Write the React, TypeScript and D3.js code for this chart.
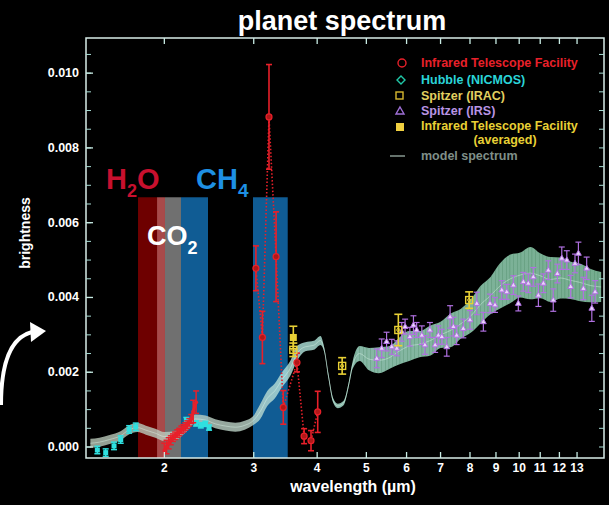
import React from 'react';
import * as d3 from 'd3';

const W = 609;
const H = 505;
const FONT = '"Liberation Sans", Arial, Helvetica, sans-serif';

// axis domains
const X_DOMAIN = [1.402, 14.69];
const Y_DOMAIN = [-0.000294, 0.01094];
const xTicks = [2, 3, 4, 5, 6, 7, 8, 9, 10, 11, 12, 13];
const yTicks = [0, 0.002, 0.004, 0.006, 0.008, 0.01];
const yTickLabels = ['0.000', '0.002', '0.004', '0.006', '0.008', '0.010'];

// absorption bands (µm)
const bandStart = [1.775, 1.935, 2.006, 2.157, 2.99];
const bandEnd = [1.935, 2.006, 2.157, 2.438, 3.5];
const bandTop = 0.00668;

// model spectrum
const modelWl = [1.43, 1.49, 1.56, 1.64, 1.7, 1.77, 1.84, 1.92, 2.0, 2.1, 2.2, 2.3, 2.41, 2.52, 2.64, 2.76, 2.88, 2.99, 3.09, 3.19, 3.3, 3.41, 3.54, 3.65, 3.79, 3.94, 4.06, 4.13, 4.21, 4.3, 4.39, 4.51, 4.62, 4.7, 4.85, 5.06, 5.29, 5.57, 5.78, 6.07, 6.36, 6.69, 7.0, 7.33, 7.68, 8.05, 8.38, 8.78, 9.15, 9.61, 10.05, 10.52, 11.0, 11.53, 12.07, 12.6, 13.2, 13.8, 14.5];
const modelMid = [0.0001, 0.00013, 0.0002, 0.0003, 0.00045, 0.00052, 0.00045, 0.00037, 0.00028, 0.0003, 0.0005, 0.00075, 0.00072, 0.00062, 0.00056, 0.00053, 0.00058, 0.0007, 0.00095, 0.0013, 0.0015, 0.0018, 0.0021, 0.0025, 0.00268, 0.00272, 0.00285, 0.0026, 0.0019, 0.00125, 0.0011, 0.00118, 0.0017, 0.0022, 0.0025, 0.00235, 0.00232, 0.0024, 0.00255, 0.0027, 0.00275, 0.00285, 0.003, 0.00312, 0.0033, 0.00352, 0.0038, 0.00405, 0.0043, 0.0045, 0.0046, 0.00465, 0.00458, 0.00448, 0.00452, 0.00446, 0.0044, 0.00432, 0.00428];
const modelSpread = [0.00012, 0.00012, 0.00012, 0.00012, 0.00012, 0.00012, 0.00012, 0.00012, 0.00012, 0.00012, 0.00012, 0.00012, 0.00012, 0.00012, 0.00012, 0.00012, 0.00012, 0.00012, 0.0002, 0.0002, 0.0002, 0.0002, 0.0002, 0.0002, 0.00012, 0.00012, 0.00012, 0.00006, 0.00006, 0.00006, 0.00006, 0.00006, 0.00006, 0.0001, 0.0002, 0.0003, 0.00035, 0.0003, 0.00035, 0.0004, 0.00035, 0.0004, 0.00035, 0.00045, 0.0004, 0.00045, 0.0005, 0.0005, 0.0006, 0.00065, 0.0006, 0.0007, 0.0006, 0.0006, 0.00055, 0.0005, 0.0005, 0.00045, 0.0004];

// IRTF spectrum near 2 µm
const irtfSpecWl = [2.0, 2.02, 2.04, 2.06, 2.08, 2.1, 2.12, 2.14, 2.16, 2.18, 2.2, 2.22, 2.24, 2.26, 2.28, 2.31];
const irtfSpecVal = [-0.0001, 0.0, 0.0001, 0.00018, 0.00025, 0.0003, 0.00036, 0.0004, 0.00046, 0.0005, 0.00055, 0.0006, 0.00066, 0.00075, 0.00095, 0.0012];
const irtfSpecErr = [0.0002, 0.00018, 0.00015, 0.00012, 0.0001, 0.0001, 0.0001, 0.0001, 0.0001, 0.0001, 0.0001, 0.0001, 0.0001, 0.00012, 0.0003, 0.0003];

// IRTF photometry 3-4 µm
const irtfWl = [3.03, 3.12, 3.215, 3.32, 3.43, 3.65, 3.77, 3.89, 4.01];
const irtfVal = [0.00478, 0.00293, 0.00883, 0.00509, 0.00106, 0.00226, 0.00029, 0.00017, 0.00094];
const irtfErr = [0.0006, 0.0007, 0.0014, 0.0012, 0.00045, 0.00025, 0.0002, 0.00027, 0.00055];

// Hubble NICMOS
const nicWl = [1.476, 1.533, 1.592, 1.641, 1.705, 1.757, 2.21, 2.31, 2.36, 2.41, 2.45];
const nicVal = [-0.00008, -0.00015, 0.00003, 0.0002, 0.00047, 0.00054, 0.00072, 0.00063, 0.00058, 0.00062, 0.00052];
const nicErr = [0.0001, 0.0001, 0.0001, 0.0001, 0.0001, 0.0001, 0.00007, 0.00007, 0.00007, 0.00007, 0.00007];

// Spitzer IRAC
const iracWl = [3.59, 4.48, 5.78, 7.97];
const iracVal = [0.0026, 0.00217, 0.00313, 0.00393];
const iracErr = [0.00018, 0.00022, 0.00042, 0.00022];

// IRTF averaged
const avgWl = [3.59];
const avgVal = [0.00293];
const avgErr = [0.0003];

// Spitzer IRS
const irsWl = [5.24, 5.36, 5.48, 5.61, 5.74, 5.87, 5.96, 6.09, 6.19, 6.28, 6.43, 6.52, 6.67, 6.83, 6.93, 7.04, 7.2, 7.31, 7.42, 7.53, 7.76, 8.0, 8.25, 8.5, 8.76, 8.96, 9.24, 9.45, 9.74, 9.96, 10.19, 10.42, 10.66, 10.91, 11.16, 11.41, 11.67, 11.89, 12.13, 12.41, 12.63, 12.88, 13.08, 13.38, 13.58, 13.9, 14.11];
const irsVal = [0.00237, 0.00264, 0.00282, 0.00268, 0.00264, 0.00308, 0.00322, 0.00295, 0.00326, 0.00313, 0.00299, 0.00273, 0.00313, 0.00273, 0.00299, 0.00295, 0.00268, 0.00348, 0.00322, 0.00299, 0.00317, 0.0034, 0.00384, 0.00335, 0.00384, 0.0038, 0.0042, 0.00415, 0.00433, 0.00384, 0.00442, 0.00438, 0.00455, 0.00406, 0.00438, 0.00473, 0.00393, 0.00464, 0.00505, 0.005, 0.00429, 0.00491, 0.00518, 0.00424, 0.00478, 0.00371, 0.00415];
const irsErr = [0.00025, 0.00025, 0.00025, 0.0002, 0.0002, 0.00025, 0.0002, 0.00025, 0.00025, 0.0002, 0.00025, 0.00025, 0.0002, 0.0002, 0.00025, 0.0002, 0.00025, 0.0003, 0.00025, 0.00025, 0.00025, 0.00025, 0.0003, 0.00025, 0.00025, 0.0002, 0.00025, 0.0002, 0.00025, 0.0002, 0.00025, 0.00025, 0.00025, 0.0003, 0.00025, 0.00025, 0.0003, 0.00025, 0.0003, 0.00025, 0.0003, 0.00025, 0.0003, 0.0003, 0.0003, 0.00035, 0.0003];

const legendLabels = ['Infrared Telescope Facility', 'Hubble  (NICMOS)', 'Spitzer (IRAC)', 'Spitzer (IRS)', 'Infrared Telescope Facility', 'model spectrum'];

// style constants
const BAND_COLORS = ['#6e0000', '#a84a4a', '#707070', '#105c94', '#105c94'];
const RED = '#e8202a';
const CYAN = '#2fe0e0';
const YELLOW = '#e8d035';
const PURPLE = '#b070e0';
const FRAME = '#d8ece8';

const PL = 86, PR = 604, PT = 38, PB = 458;

export default function App() {
  const x = d3.scaleLog().domain(X_DOMAIN).range([PL, PR]);
  const y = d3.scaleLinear().domain(Y_DOMAIN).range([PB, PT]);

  const mIdx = d3.range(modelWl.length);
  const modelArea = d3
    .area<number>()
    .x((i) => x(modelWl[i]))
    .y0((i) => y(modelMid[i] - modelSpread[i]))
    .y1((i) => y(modelMid[i] + modelSpread[i]))
    .curve(d3.curveMonotoneX)(mIdx) as string;
  const modelLine = d3
    .line<number>()
    .x((i) => x(modelWl[i]))
    .y((i) => y(modelMid[i]))
    .curve(d3.curveMonotoneX)(mIdx) as string;

  const specLine = d3
    .line<number>()
    .x((i) => x(irtfSpecWl[i]))
    .y((i) => y(irtfSpecVal[i]))(d3.range(irtfSpecWl.length)) as string;
  const photLine = d3
    .line<number>()
    .x((i) => x(irtfWl[i]))
    .y((i) => y(irtfVal[i]))(d3.range(irtfWl.length)) as string;

  const yMinor = d3.range(0, 0.01051, 0.0005);

  const errBar = (wx: number, v: number, e: number, cap: number, color: string, sw: number, key: string) => {
    const cx = x(wx);
    const y1 = y(v + e);
    const y2 = y(v - e);
    return (
      <g key={key} stroke={color} strokeWidth={sw}>
        <line x1={cx} x2={cx} y1={y1} y2={y2} />
        <line x1={cx - cap} x2={cx + cap} y1={y1} y2={y1} />
        <line x1={cx - cap} x2={cx + cap} y1={y2} y2={y2} />
      </g>
    );
  };

  const tri = (cx: number, cy: number, r: number) =>
    `M${cx},${cy - r}L${cx + r * 0.9},${cy + r * 0.6}L${cx - r * 0.9},${cy + r * 0.6}Z`;

  return (
    <svg
      width={W}
      height={H}
      style={{ position: 'absolute', left: 0, top: 0, background: '#000' }}
      fontFamily={FONT}
    >
      <defs>
        <clipPath id="plotClip">
          <rect x={PL} y={PT} width={PR - PL} height={PB - PT} />
        </clipPath>
        <clipPath id="rightClip">
          <rect x={x(4.7)} y={PT} width={PR - x(4.7)} height={PB - PT} />
        </clipPath>
        <linearGradient id="modelGrad" gradientUnits="userSpaceOnUse" x1={x(1.4)} x2={x(14.5)} y1={0} y2={0}>
          <stop offset={0} stopColor="#b8c6b6" />
          <stop offset={(x(2.9) - x(1.4)) / (x(14.5) - x(1.4))} stopColor="#bcd4c8" />
          <stop offset={(x(3.6) - x(1.4)) / (x(14.5) - x(1.4))} stopColor="#b4e6e0" />
          <stop offset={(x(5.0) - x(1.4)) / (x(14.5) - x(1.4))} stopColor="#a8e6ce" />
          <stop offset={1} stopColor="#92d8b2" />
        </linearGradient>
        <pattern id="streaks" width={11} height={8} patternUnits="userSpaceOnUse">
          <rect x={0} y={0} width={1} height={8} fill="#2f7048" />
          <rect x={3} y={0} width={1.5} height={8} fill="#3d8058" />
          <rect x={7} y={0} width={1} height={8} fill="#2f7048" />
        </pattern>
      </defs>

      <rect x={0} y={0} width={W} height={H} fill="#000" />

      {/* title */}
      <text x={342} y={30} fill="#fff" fontSize={27} fontWeight="bold" textAnchor="middle">
        planet spectrum
      </text>

      <g clipPath="url(#plotClip)">
        {/* bands */}
        {bandStart.map((b, i) => (
          <rect
            key={'band' + i}
            x={x(b)}
            width={x(bandEnd[i]) - x(b)}
            y={y(bandTop)}
            height={y(Y_DOMAIN[0]) - y(bandTop)}
            fill={BAND_COLORS[i]}
          />
        ))}

        {/* model spectrum */}
        <path d={modelArea} fill="url(#modelGrad)" opacity={0.8} />
        <g clipPath="url(#rightClip)">
          <path d={modelArea} fill="url(#streaks)" opacity={0.22} />
        </g>
        <path d={modelLine} fill="none" stroke="#dcf6e8" strokeWidth={1} opacity={0.45} />

        {/* NICMOS */}
        {nicWl.map((w, i) => errBar(w, nicVal[i], nicErr[i], 3, CYAN, 1.5, 'ne' + i))}
        {nicWl.map((w, i) => (
          <rect key={'n' + i} x={x(w) - 2.5} y={y(nicVal[i]) - 2.5} width={5} height={5} fill={CYAN} />
        ))}

        {/* IRTF spectrum */}
        {irtfSpecWl.map((w, i) => errBar(w, irtfSpecVal[i], irtfSpecErr[i], 3, RED, 1.5, 'se' + i))}
        <path d={specLine} fill="none" stroke={RED} strokeWidth={3} />
        {irtfSpecWl.map((w, i) => (
          <circle key={'sc' + i} cx={x(w)} cy={y(irtfSpecVal[i])} r={2} fill={RED} />
        ))}

        {/* IRTF photometry */}
        <path d={photLine} fill="none" stroke={RED} strokeWidth={1.6} strokeDasharray="1.5,2" />
        {irtfWl.map((w, i) => errBar(w, irtfVal[i], irtfErr[i], 3, RED, 1.6, 'pe' + i))}
        {irtfWl.map((w, i) => (
          <circle key={'pc' + i} cx={x(w)} cy={y(irtfVal[i])} r={3} fill="#b01818" stroke={RED} strokeWidth={1.2} />
        ))}

        {/* IRS */}
        {irsWl.map((w, i) => errBar(w, irsVal[i], irsErr[i], 3, PURPLE, 1.2, 'ie' + i))}
        {irsWl.map((w, i) => (
          <path key={'it' + i} d={tri(x(w), y(irsVal[i]), 3.2)} fill="#e8d4fa" stroke={PURPLE} strokeWidth={1} />
        ))}

        {/* IRAC */}
        {iracWl.map((w, i) => errBar(w, iracVal[i], iracErr[i], 4, YELLOW, 1.6, 'ae' + i))}
        {iracWl.map((w, i) => (
          <g key={'ar' + i}>
            <rect x={x(w) - 3.5} y={y(iracVal[i]) - 3.5} width={7} height={7} fill="none" stroke={YELLOW} strokeWidth={1.4} />
            <circle cx={x(w)} cy={y(iracVal[i])} r={1.6} fill="none" stroke={YELLOW} strokeWidth={1} />
          </g>
        ))}

        {/* IRTF averaged */}
        {avgWl.map((w, i) => errBar(w, avgVal[i], avgErr[i], 4, YELLOW, 1.6, 've' + i))}
        {avgWl.map((w, i) => (
          <rect key={'vr' + i} x={x(w) - 3.5} y={y(avgVal[i]) - 3.5} width={7} height={7} fill={YELLOW} />
        ))}
      </g>

      {/* frame */}
      <rect x={PL} y={PT} width={PR - PL} height={PB - PT} fill="none" stroke={FRAME} strokeWidth={1.5} />

      {/* y ticks */}
      {yMinor.map((v, i) => (
        <g key={'ym' + i} stroke="#a8dcd4" strokeWidth={1}>
          <line x1={PL} x2={PL + 5} y1={y(v)} y2={y(v)} />
          <line x1={PR} x2={PR - 5} y1={y(v)} y2={y(v)} />
        </g>
      ))}
      {yTicks.map((v, i) => (
        <g key={'yt' + i}>
          <line x1={PL} x2={PL + 7} y1={y(v)} y2={y(v)} stroke="#c8ece4" strokeWidth={1.3} />
          <text x={79} y={y(v) + 4} fill="#fff" fontSize={12.5} fontWeight="bold" textAnchor="end">
            {yTickLabels[i]}
          </text>
        </g>
      ))}

      {/* x ticks */}
      {xTicks.map((t) => (
        <g key={'xt' + t}>
          <line x1={x(t)} x2={x(t)} y1={PB} y2={PB - 6} stroke="#c8ece4" strokeWidth={1.3} />
          <line x1={x(t)} x2={x(t)} y1={PT} y2={PT + 6} stroke="#c8ece4" strokeWidth={1.3} />
          <text x={x(t)} y={472} fill="#fff" fontSize={12} fontWeight="bold" textAnchor="middle">
            {t}
          </text>
        </g>
      ))}

      {/* axis titles */}
      <text x={353} y={492} fill="#fff" fontSize={16} fontWeight="bold" textAnchor="middle">
        wavelength (µm)
      </text>
      <text
        transform="translate(30,233) rotate(-90)"
        fill="#fff"
        fontSize={14}
        fontWeight="bold"
        textAnchor="middle"
      >
        brightness
      </text>

      {/* arrow */}
      <path d="M1,405 C1,370 8,338 32,332" fill="none" stroke="#fff" strokeWidth={4} />
      <path d="M30,322 L46,331 L31,342 Z" fill="#fff" />

      {/* molecule labels */}
      <text x={106} y={189} fill="#c8102e" fontSize={29} fontWeight="bold">
        H<tspan fontSize={18} dy={8}>2</tspan>
        <tspan fontSize={29} dy={-8}>O</tspan>
      </text>
      <text x={196} y={189} fill="#1e90e4" fontSize={29} fontWeight="bold">
        CH<tspan fontSize={19} dy={8}>4</tspan>
      </text>
      <text x={147} y={245} fill="#fff" fontSize={27} fontWeight="bold">
        CO<tspan fontSize={18} dy={9}>2</tspan>
      </text>

      {/* legend */}
      <g fontSize={12.5} fontWeight="bold">
        <circle cx={402} cy={63} r={4} fill="none" stroke={RED} strokeWidth={1.4} />
        <text x={421} y={67} fill={RED}>{legendLabels[0]}</text>

        <path d="M401,76 L405,80 L401,84 L397,80 Z" fill="none" stroke="#20c8a8" strokeWidth={1.4} />
        <text x={421} y={84} fill="#2ad4d8">{legendLabels[1]}</text>

        <rect x={396} y={92} width={7} height={7} fill="none" stroke="#d8b830" strokeWidth={1.4} />
        <text x={421} y={100} fill="#e2d060">{legendLabels[2]}</text>

        <path d="M400,107 L404,114 L396,114 Z" fill="none" stroke="#a070d8" strokeWidth={1.4} />
        <text x={421} y={115} fill="#b894e4">{legendLabels[3]}</text>

        <rect x={396} y={123} width={8} height={8} fill="#f0d040" />
        <text x={421} y={130} fill={YELLOW}>{legendLabels[4]}</text>
        <text x={505} y={144} fill={YELLOW} textAnchor="middle">(averaged)</text>

        <line x1={390} x2={405} y1={156} y2={156} stroke="#7f8f88" strokeWidth={1.6} />
        <text x={421} y={160} fill="#7f8f88">{legendLabels[5]}</text>
      </g>
    </svg>
  );
}
